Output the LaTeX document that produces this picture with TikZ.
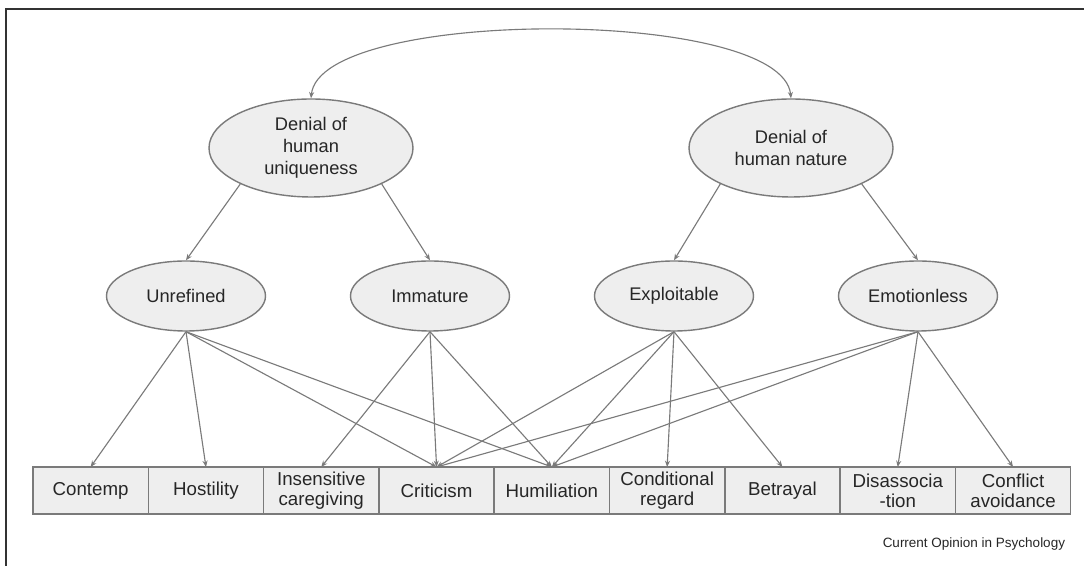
\documentclass[tikz,border=0pt]{standalone}
\usepackage{fontspec}
\setmainfont{Liberation Sans}
\usetikzlibrary{shapes.geometric,arrows.meta}
\definecolor{boxfill}{HTML}{EEEEEE}
\definecolor{linegray}{HTML}{7A7A7A}
\begin{document}
\begin{tikzpicture}[
  every node/.style={font=\fontsize{13}{15.6}\selectfont,text=black!85},
  dim/.style={ellipse,draw=linegray,fill=boxfill,line width=1pt,inner sep=0pt,align=center,minimum width=5.1cm,minimum height=2.45cm},
  facet/.style={ellipse,draw=linegray,fill=boxfill,line width=1pt,inner sep=0pt,minimum width=3.975cm,minimum height=1.75cm},
  behav/.style={rectangle,draw=linegray,fill=boxfill,line width=1pt,outer sep=0pt,inner sep=0pt,align=center,minimum width=2.8825cm,minimum height=1.175cm,font=\fontsize{13.3}{14.2}\selectfont},
  link/.style={draw=linegray,line width=0.8pt,-{Stealth[length=4.5pt,width=3.6pt]}}]

\useasboundingbox (0,0) rectangle (27.1,14.15);
\draw[line width=1pt,black!80] (0.15,0) -- (0.15,13.925) -- (27.1,13.925);

\node[dim] (dhu) at (7.775,10.45) {Denial of\\human\\uniqueness};
\node[dim] (dhn) at (19.775,10.45) {Denial of\\human nature};

\node[facet] (unref) at (4.65,6.75) {Unrefined};
\node[facet] (immat) at (10.75,6.75) {Immature};
\node[facet] (explo) at (16.85,6.75) {Exploitable};
\node[facet] (emoti) at (22.95,6.75) {Emotionless};

\node[behav] (contemp) at (2.266,1.8875) {Contemp};
\node[behav] (hostil) at (5.149,1.8875) {Hostility};
\node[behav] (insens) at (8.031,1.8875) {Insensitive\\caregiving};
\node[behav] (critic) at (10.914,1.8875) {Criticism};
\node[behav] (humil) at (13.796,1.8875) {Humiliation};
\node[behav] (condit) at (16.679,1.8875) {Conditional\\regard};
\node[behav] (betray) at (19.561,1.8875) {Betrayal};
\node[behav] (disass) at (22.444,1.8875) {Disassocia\\-tion};
\node[behav] (confl) at (25.326,1.8875) {Conflict\\avoidance};

\node[anchor=east,font=\fontsize{9.6}{11}\selectfont] (credit) at (26.75,0.55) {Current Opinion in Psychology};

% the two dimensions
\draw[link,{Stealth[length=4.5pt,width=3.6pt]}-{Stealth[length=4.5pt,width=3.6pt]}] (dhu.north) .. controls (8.0,13.975) and (19.55,13.975) .. (dhn.north);

\draw[link] (dhu.207) -- (unref.north);
\draw[link] (dhu.333) -- (immat.north);
\draw[link] (dhn.207) -- (explo.north);
\draw[link] (dhn.333) -- (emoti.north);

% facets to behaviours
\draw[link] (unref.south) -- (contemp.north);
\draw[link] (unref.south) -- (hostil.north);
\draw[link] (unref.south) -- (critic.north);
\draw[link] (unref.south) -- (humil.north);

\draw[link] (immat.south) -- (insens.north);
\draw[link] (immat.south) -- (critic.north);
\draw[link] (immat.south) -- (humil.north);

\draw[link] (explo.south) -- (critic.north);
\draw[link] (explo.south) -- (humil.north);
\draw[link] (explo.south) -- (condit.north);
\draw[link] (explo.south) -- (betray.north);

\draw[link] (emoti.south) -- (critic.north);
\draw[link] (emoti.south) -- (humil.north);
\draw[link] (emoti.south) -- (disass.north);
\draw[link] (emoti.south) -- (confl.north);

\end{tikzpicture}
\end{document}
